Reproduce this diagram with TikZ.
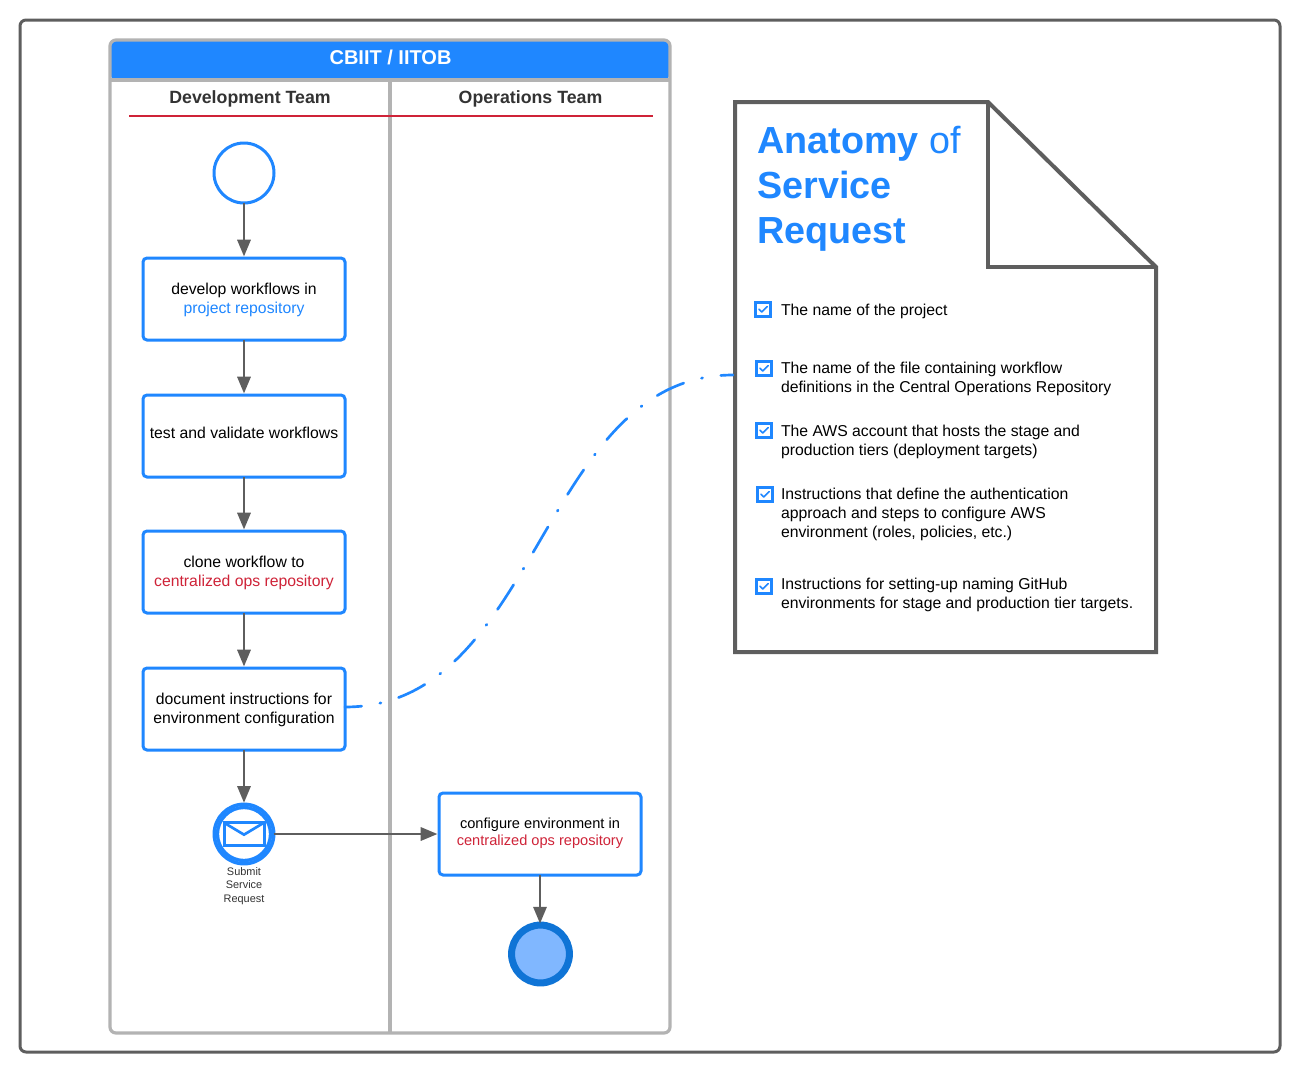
\documentclass[tikz,border=0pt]{standalone}
\usepackage{fontspec}
\setmainfont{Liberation Sans}
\usetikzlibrary{arrows.meta}
\definecolor{bluem}{HTML}{1F87FF}
\definecolor{greyd}{HTML}{5E5E5E}
\definecolor{greyl}{HTML}{B3B3B3}
\definecolor{redt}{HTML}{CF2338}
\definecolor{darkb}{HTML}{0F74D6}
\definecolor{lightb}{HTML}{80B7FF}
\definecolor{texd}{HTML}{333333}
\newcommand{\bodyfont}{\fontsize{11.82pt}{14.25pt}\selectfont}
\newcommand{\smallbody}{\fontsize{10.95pt}{13.1pt}\selectfont}
\tikzset{
  px/.style={x=0.75pt,y=-0.75pt},
  taskbox/.style={draw=bluem,line width=2.25pt,fill=white,rounded corners=3pt,rectangle,
    minimum width=151.5pt,minimum height=61.5pt,inner sep=0pt,outer sep=0pt},
  boxtext/.style={font=\bodyfont,align=center,inner sep=0pt},
  flow/.style={draw=greyd,line width=1.6pt,shorten >=1.2pt,-{Triangle[length=12.5pt,width=10pt]}},
  chkbox/.style={draw=bluem,line width=2.25pt,fill=white,rectangle,minimum size=11pt,inner sep=0pt,outer sep=0pt},
  chkmark/.style={draw=bluem,line width=1.2pt,line cap=round,line join=round},
  item/.style={anchor=west,align=left,inner sep=0pt,outer sep=0pt,font=\bodyfont,text=black},
  lanehead/.style={font=\fontsize{13.3pt}{16pt}\selectfont\bfseries,text=texd,inner sep=0pt},
  lanerule/.style={draw=greyl,line width=2.4pt}
}
\newcommand{\checkitem}[3]{%
  \node[chkbox] (#1) at (#2,#3) {};
  \draw[chkmark] ([xshift=-3pt,yshift=0.2pt]#1.center) -- ([xshift=-0.9pt,yshift=-1.9pt]#1.center) -- ([xshift=3.2pt,yshift=2.2pt]#1.center);
}
\begin{document}
\begin{tikzpicture}[px]
\useasboundingbox (0,0) rectangle (1300,1072);
\fill[white] (0,0) rectangle (1300,1072);
% outer frame
\draw[greyd,line width=2.25pt,rounded corners=4.5pt] (20,20) rectangle (1280,1052);
% pool
\fill[white] (110,40) rectangle (670,1033);
\fill[bluem,rounded corners=3pt] (111,80) -- (111,41) -- (669,41) -- (669,80) -- cycle;
\draw[lanerule] (110,80) -- (670,80);
\draw[lanerule] (390,80) -- (390,1033);
\draw[lanerule,rounded corners=4.5pt] (110,40) rectangle (670,1033);
\node[font=\fontsize{15pt}{18pt}\selectfont\bfseries,text=white,inner sep=0pt] (pooltitle) at (390.5,57.5) {CBIIT / IITOB};
\node[lanehead] (devhead) at (250,99) {Development Team};
\node[lanehead] (opshead) at (530.5,99) {Operations Team};
\coordinate (ruleL) at (129,116);
\coordinate (ruleR) at (653,116);
\draw[redt,line width=0.9pt] (ruleL) -- (ruleR);
% flow nodes
\node[circle,draw=bluem,line width=2.25pt,fill=white,minimum size=45pt,inner sep=0pt,outer sep=0pt] (start) at (244,173) {};
\node[taskbox] (b1) at (244,299) {};
\node[boxtext] (b1text) at (244,299.5) {develop workflows in\\\textcolor{bluem}{project repository}};
\node[taskbox] (b2) at (244,436) {};
\node[boxtext] (b2text) at (244,433) {test and validate workflows};
\node[taskbox] (b3) at (244,572) {};
\node[boxtext] (b3text) at (244,572.5) {clone workflow to\\\textcolor{redt}{centralized ops repository}};
\node[taskbox] (b4) at (244,709) {};
\node[boxtext] (b4text) at (244,709.5) {document instructions for\\environment configuration};
\node[circle,draw=bluem,line width=2.7pt,fill=white,minimum size=44.5pt,inner sep=0pt,outer sep=0pt] (msg) at (244,834) {};
\node[circle,draw=bluem,line width=2.5pt,minimum size=39.8pt,inner sep=0pt,outer sep=0pt] (msginner) at (244,834) {};
\node[rectangle,draw=bluem,line width=2.25pt,minimum width=30pt,minimum height=17pt,inner sep=0pt,outer sep=0pt] (env) at (244,834) {};
\draw[bluem,line width=2pt] (env.north west) -- ([yshift=-9pt]env.north) -- (env.north east);
\node[font=\fontsize{8.2pt}{10.1pt}\selectfont,text=texd,align=center,inner sep=0pt] (msglabel) at (244,886) {Submit\\Service\\Request};
\node[taskbox] (b5) at (540,834) {};
\node[font=\smallbody,align=center,inner sep=0pt] (b5text) at (540,833.4) {configure environment in\\\textcolor{redt}{centralized ops repository}};
\node[circle,draw=darkb,line width=5.25pt,fill=lightb,minimum size=43.4pt,inner sep=0pt,outer sep=0pt] (finish) at (540.5,954) {};
% connectors
\draw[flow] (start) -- (b1);
\draw[flow] (b1) -- (b2);
\draw[flow] (b2) -- (b3);
\draw[flow] (b3) -- (b4);
\draw[flow] (b4) -- (msg);
\draw[flow] (msg) -- (b5);
\draw[flow] (b5.south) -- (b5.south |- finish.north);
% note page
\coordinate (nA) at (735,102);
\coordinate (nB) at (988,102);
\coordinate (nC) at (1156,267);
\coordinate (nD) at (1156,652);
\coordinate (nE) at (735,652);
\coordinate (nF) at (988,267);
\coordinate (nL) at (733,375);
\draw[greyd,line width=3pt,line join=miter] (nA) -- (nB) -- (nC) -- (nD) -- (nE) -- cycle;
\draw[greyd,line width=3pt] (nB) -- (nF) -- (nC);
% dash-dot curve
\draw[bluem,line width=2pt,line cap=round,dash pattern=on 22pt off 13.85pt on 0.8pt off 13.85pt,dash phase=9.5pt] (b4.east |- 0,707) .. controls (540,707) and (540,375) .. (nL);
% title
\node[anchor=west,align=left,inner sep=0pt,text=bluem,font=\fontsize{28.3pt}{34pt}\selectfont] (title) at (757,188.8) {\textbf{Anatomy} of\\\textbf{Service}\\\textbf{Request}};
% checklist
\checkitem{c1}{763}{309.5}
\node[item] (t1) at (781,311.7) {The name of the project};
\checkitem{c2}{764}{368.5}
\node[item] (t2) at (781,378.5) {The name of the file containing workflow\\definitions in the Central Operations Repository};
\checkitem{c3}{764}{430.5}
\node[item] (t3) at (781,441.5) {The AWS account that hosts the stage and\\production tiers (deployment targets)};
\checkitem{c4}{765}{494.5}
\node[item] (t4) at (781,514) {Instructions that define the authentication\\approach and steps to configure AWS\\environment (roles, policies, etc.)};
\checkitem{c5}{764}{586.5}
\node[item] (t5) at (781,594.5) {Instructions for setting-up naming GitHub\\environments for stage and production tier targets.};
\end{tikzpicture}
\end{document}
